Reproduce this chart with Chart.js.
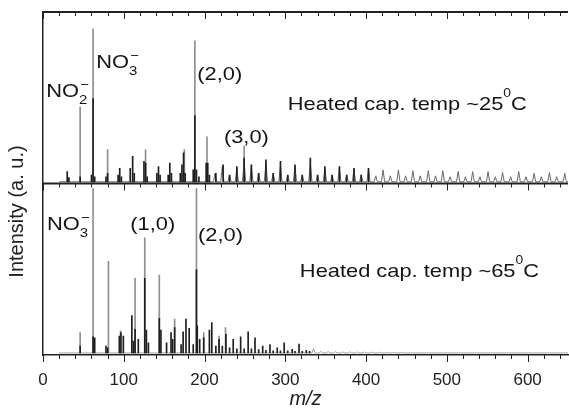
<!DOCTYPE html>
<html>
<head>
<meta charset="utf-8">
<script src="https://cdn.jsdelivr.net/npm/chart.js@4.4.0/dist/chart.umd.min.js"></script>
<style>
  html, body { margin: 0; padding: 0; background: #fff; }
</style>
</head>
<body>
<canvas id="myChart" width="569" height="411"></canvas>
<script>
// eje m/z
let xTicks = [0, 100, 200, 300, 400, 500, 600]
let xMinorStep = 20

// panel superior: ~25 C  (picos altos, trazo gris)
let topTallMz  = [46, 62, 80, 127, 175, 188, 203, 249]
let topTallInt = [44, 90, 19, 19, 19, 83, 26.5, 21]

// panel superior: picos negros
let topMz  = [30, 32, 46, 60, 62, 64, 78, 80, 93, 95, 97, 108, 111, 113, 125, 127, 129, 141, 143, 145,
              155, 157, 159, 170, 172, 174, 176, 186, 188, 190, 193, 202, 204, 206, 214, 223, 231, 240,
              249, 258, 267, 276, 285, 294, 303, 312, 321, 331, 340, 349, 358, 367, 376, 385, 394, 403]
let topInt = [6, 2.5, 3, 4, 49, 3, 3, 5, 4, 8, 3, 8, 15, 5, 12, 11, 3, 5, 9, 4,
              4, 11, 5, 5, 10, 17, 5, 7, 39, 7, 3, 11, 11, 4, 5, 10, 4, 9,
              14, 10, 5, 13, 5, 12, 4, 10, 4, 14, 4, 9, 4, 9, 4, 8, 4, 8]

// panel superior: perfil de picos anchos (cumulos)
let topProfMz  = [213, 222, 231, 240, 249, 258, 267, 276, 285, 294, 303, 312, 321, 331, 340, 349,
                  358, 367, 376, 385, 394, 403, 412, 421, 430, 440, 449, 458, 467, 477, 486, 495,
                  504, 514, 523, 532, 541, 551, 560, 569, 579, 589, 598, 608, 617, 627, 636, 646]
let topProfInt = [5, 9, 4, 8, 12, 9, 5, 11, 5, 10, 4, 9, 4, 11, 4, 8,
                  4, 8, 4, 7.5, 4, 7.5, 3.5, 7, 3.5, 7, 3.5, 6.5, 3.5, 6.5, 3.5, 6.5,
                  3, 6, 3, 6, 3, 6, 3, 5.5, 3, 6, 3, 5, 3, 5.5, 3, 5]

// panel inferior: ~65 C  (picos altos, trazo gris)
let botTallMz  = [46, 62, 81, 96, 114, 126, 144, 163, 190, 199, 218, 226]
let botTallInt = [12, 97, 54, 13, 44, 68, 46, 20, 97, 12, 10, 15]

// panel inferior: picos negros
let botMz  = [46, 62, 64, 78, 80, 94.5, 96.5, 99.5, 110, 112, 114, 118, 126, 128, 130.5, 144, 146, 153,
              158.5, 160.5, 163, 171, 173.5, 177, 181, 186, 190, 191, 194, 199, 206, 209, 214, 218, 222,
              226.5, 231, 235.5, 240, 244.7, 249, 254, 258, 262.5, 267, 272, 276, 281, 285, 290, 294,
              298.6, 303, 308.5, 312, 317, 321, 326, 330]
let botInt = [4, 9.5, 9, 4, 3, 10, 12, 10, 22, 7, 14, 8, 44, 13.5, 6, 20.5, 13.5, 6,
              12, 8, 15, 5, 12.5, 20, 14.5, 5, 49, 16, 8, 9, 13.5, 18, 4, 8, 4,
              11, 3, 8, 2.5, 9.5, 2.5, 12.5, 2.5, 9, 2, 4, 1.5, 5, 1.2, 3, 1.2,
              6, 1.2, 2.2, 1, 5.2, 1, 1.5, 1]

// panel inferior: cola de picos pequenos
let botProfMz  = [335, 344, 353, 362, 371, 380, 389, 398, 408, 417, 426, 435, 444]
let botProfInt = [2.5, 1, 0.8, 0.8, 0.7, 0.7, 0.6, 0.6, 0.5, 0.5, 0.4, 0.4, 0.4]

let sticks = (mz, inten) => mz.map((m, i) => ({x: m, y: inten[i]}))

let profile = (mz, inten, hw, from, to) => {
    let pts = [{x: from, y: 0}]
    mz.forEach((m, i) => {
        pts.push({x: m - hw, y: 0}, {x: m, y: inten[i]}, {x: m + hw, y: 0})
    })
    pts.push({x: to, y: 0})
    return pts
}

// etiquetas del grafico (en unidades de datos)
let notes = [
    {axis: 'yTop', mz: 4, v: 50, main: 'NO', sub: '2', sup: '\u2212'},
    {axis: 'yTop', mz: 66, v: 67, main: 'NO', sub: '3', sup: '\u2212'},
    {axis: 'yTop', mz: 191, v: 60, main: '(2,0)'},
    {axis: 'yTop', mz: 224, v: 23, main: '(3,0)'},
    {axis: 'yTop', mz: 303, v: 42.5, main: 'Heated cap. temp ~25', deg: '0', after: 'C'},
    {axis: 'yBot', mz: 5, v: 72.8, main: 'NO', sub: '3', sup: '\u2212'},
    {axis: 'yBot', mz: 108, v: 72.8, main: '(1,0)'},
    {axis: 'yBot', mz: 192, v: 66, main: '(2,0)'},
    {axis: 'yBot', mz: 318, v: 45, main: 'Heated cap. temp ~65', deg: '0', after: 'C'}
]

const FONT = "'Liberation Sans', Arial, sans-serif"

let noteLabels = {
    id: 'noteLabels',
    afterDatasetsDraw(chart) {
        let {ctx, scales} = chart
        ctx.save()
        ctx.fillStyle = '#141414'
        ctx.textBaseline = 'alphabetic'
        notes.forEach(n => {
            let px = scales.x.getPixelForValue(n.mz)
            let py = scales[n.axis].getPixelForValue(n.v)
            ctx.save()
            ctx.translate(px, py)
            ctx.scale(1.15, 1)
            ctx.font = '19px ' + FONT
            ctx.fillText(n.main, 0, 0)
            let w = ctx.measureText(n.main).width
            ctx.font = '13px ' + FONT
            if (n.sub) ctx.fillText(n.sub, w, 7)
            if (n.sup) ctx.fillText(n.sup, w + 1, -8)
            if (n.deg) {
                ctx.font = '12px ' + FONT
                ctx.fillText(n.deg, w, -13)
                let w2 = ctx.measureText(n.deg).width
                ctx.font = '19px ' + FONT
                ctx.fillText(n.after, w + w2, 0)
            }
            ctx.restore()
        })
        ctx.restore()
    }
}

// marco y marcas menores / mayores
let frameTicks = {
    id: 'frameTicks',
    afterDraw(chart) {
        let {ctx, chartArea, scales} = chart
        let x = scales.x
        let mid = scales.yTop.bottom
        let w = chartArea.right - chartArea.left
        ctx.save()
        ctx.fillStyle = '#222'
        ctx.fillRect(chartArea.left - 1, chartArea.top - 1, w + 1, 2)
        ctx.fillRect(chartArea.left, mid - 1, w, 2)
        ctx.strokeStyle = '#222'
        ctx.lineWidth = 1
        ctx.beginPath()
        for (let v = 0; v <= x.max; v += xMinorStep) {
            let px = Math.round(x.getPixelForValue(v)) + 0.5
            let len = xTicks.includes(v) ? 7 : 4
            ctx.moveTo(px, chartArea.top)
            ctx.lineTo(px, chartArea.top + len)
            ctx.moveTo(px, mid)
            ctx.lineTo(px, mid + len)
            ctx.moveTo(px, chartArea.bottom)
            ctx.lineTo(px, chartArea.bottom + len)
        }
        ctx.stroke()
        ctx.restore()
    }
}

let yAxis = (min) => ({
    type: 'linear',
    position: 'left',
    stack: 'spec',
    stackWeight: 1,
    min: min,
    max: 100,
    ticks: {display: false},
    grid: {display: false, drawTicks: false},
    border: {color: '#222', width: 1.5},
    afterFit: s => { s.width = 9 }
})

let plot = () => {
    const ctx = document.getElementById('myChart')

    const dataset = {
        datasets: [
            {type: 'bar', label: 'black 25', data: sticks(topMz, topInt), yAxisID: 'yTop', order: 0,
             backgroundColor: '#1e1e1e', barThickness: 1, grouped: false},
            {type: 'bar', label: 'gray 25', data: sticks(topTallMz, topTallInt), yAxisID: 'yTop', order: 1,
             backgroundColor: '#8f8f8f', barThickness: 1, grouped: false},
            {type: 'line', label: 'profile 25', data: profile(topProfMz, topProfInt, 2, 20, 650), yAxisID: 'yTop', order: 2,
             borderColor: '#6a6a6a', borderWidth: 1, pointRadius: 0, tension: 0},
            {type: 'bar', label: 'black 65', data: sticks(botMz, botInt), yAxisID: 'yBot', order: 0,
             backgroundColor: '#1e1e1e', barThickness: 1, grouped: false},
            {type: 'bar', label: 'gray 65', data: sticks(botTallMz, botTallInt), yAxisID: 'yBot', order: 1,
             backgroundColor: '#8f8f8f', barThickness: 1, grouped: false},
            {type: 'line', label: 'profile 65', data: profile(botProfMz, botProfInt, 2, 20, 650), yAxisID: 'yBot', order: 2,
             borderColor: '#a0a0a0', borderWidth: 1, pointRadius: 0, tension: 0}
        ]
    }

    const config = {
        type: 'bar',
        data: dataset,
        options: {
            responsive: false,
            animation: false,
            layout: {padding: {top: 12, right: 1, left: 0, bottom: 0}},
            plugins: {
                legend: {display: false},
                tooltip: {enabled: false},
                title: {
                    display: true,
                    position: 'left',
                    text: 'Intensity (a. u.)',
                    color: '#222',
                    font: {family: FONT, size: 20, weight: 'normal'},
                    padding: {top: 5, bottom: 5}
                }
            },
            scales: {
                x: {
                    type: 'linear',
                    min: 0,
                    max: 650,
                    offset: false,
                    afterBuildTicks: s => { s.ticks = xTicks.map(v => ({value: v})) },
                    ticks: {color: '#222', font: {family: FONT, size: 17}, padding: 15, maxRotation: 0, autoSkip: false},
                    grid: {display: false, drawTicks: false},
                    border: {color: '#222', width: 1.5},
                    title: {display: true, text: 'm/z', color: '#222',
                            font: {family: FONT, size: 20, style: 'italic'}, padding: {top: 0, bottom: 0}},
                    afterFit: s => { s.height = 56 }
                },
                // el orden de la pila: el ultimo definido queda arriba
                yBot: yAxis(-1.2),
                yTop: yAxis(-1)
            }
        },
        plugins: [frameTicks, noteLabels]
    }

    const chart = new Chart(ctx, config)
}

plot()
</script>
</body>
</html>
